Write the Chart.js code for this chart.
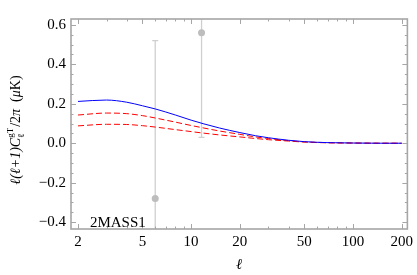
<!DOCTYPE html>
<html lang="en">
<head>
  <meta charset="UTF-8" />
  <title>2MASS1 cross-correlation</title>
  <script src="https://cdn.jsdelivr.net/npm/chart.js"></script>
  <style>
    html, body { margin: 0; padding: 0; background: #fff; }
    #wrap { width: 417px; height: 275px; }
  </style>
</head>
<body>
  <div id="wrap"><canvas id="chart" width="417" height="275"></canvas></div>

  <script>
    // multipoles where the curves are sampled
    const ell = [2, 3, 4, 5, 6, 8, 10, 12, 15, 20, 25, 30, 40, 50, 70, 100, 150, 200];
    // theory curve (blue, solid)
    const theory = [0.212, 0.219, 0.208, 0.190, 0.174, 0.143, 0.117, 0.098, 0.077, 0.054, 0.038, 0.028, 0.015, 0.008, 0.003, 0.001, 0.0, 0.0];
    // two red dashed curves
    const redHigh = [0.143, 0.153, 0.150, 0.140, 0.128, 0.107, 0.090, 0.077, 0.062, 0.045, 0.032, 0.024, 0.013, 0.007, 0.003, 0.001, 0.0, 0.0];
    const redLow = [0.088, 0.096, 0.095, 0.089, 0.082, 0.069, 0.059, 0.051, 0.042, 0.032, 0.024, 0.018, 0.011, 0.006, 0.002, 0.001, 0.0, 0.0];

    // measured points with error bars
    const dataEll = [6, 11.6];
    const dataVal = [-0.28, 0.56];
    const dataErr = [0.80, 0.53];

    // axis ticks
    const xTicks = [2, 5, 10, 20, 50, 100, 200];
    const xMinor = [3, 4, 6, 7, 8, 9, 30, 40, 60, 70, 80, 90];
    const yTicks = [-0.4, -0.2, 0.0, 0.2, 0.4, 0.6];

    const toPts = ys => ell.map((x, i) => ({ x: x, y: ys[i] }));
    const serif = '"Liberation Serif", "DejaVu Serif", serif';

    // error bars with small caps
    const errorBars = {
      id: 'errorBars',
      beforeDatasetsDraw(chart) {
        const { ctx, chartArea, scales } = chart;
        ctx.save();
        ctx.beginPath();
        ctx.rect(chartArea.left, chartArea.top, chartArea.right - chartArea.left, chartArea.bottom - chartArea.top);
        ctx.clip();
        ctx.strokeStyle = '#cfcfcf';
        ctx.lineWidth = 1.3;
        dataEll.forEach((l, i) => {
          const x = scales.x.getPixelForValue(l);
          const y1 = scales.y.getPixelForValue(dataVal[i] - dataErr[i]);
          const y2 = scales.y.getPixelForValue(dataVal[i] + dataErr[i]);
          ctx.beginPath();
          ctx.moveTo(x, y1); ctx.lineTo(x, y2);
          ctx.moveTo(x - 3, y1); ctx.lineTo(x + 3, y1);
          ctx.moveTo(x - 3, y2); ctx.lineTo(x + 3, y2);
          ctx.stroke();
        });
        ctx.restore();
      }
    };

    // Mathematica-like frame with inward ticks, label and y title
    const frame = {
      id: 'frame',
      afterDraw(chart) {
        const { ctx, chartArea: a, scales } = chart;
        ctx.save();
        ctx.strokeStyle = '#a6a6a6';
        ctx.lineWidth = 1;
        ctx.beginPath();
        const tick = (vals, len) => {
          vals.forEach(v => {
            const x = Math.round(scales.x.getPixelForValue(v)) + 0.5;
            ctx.moveTo(x, a.bottom); ctx.lineTo(x, a.bottom - len);
            ctx.moveTo(x, a.top); ctx.lineTo(x, a.top + len);
          });
        };
        tick(xTicks, 5);
        tick(xMinor, 2.5);
        for (let k = -8; k <= 12; k++) {
          const v = k * 0.05;
          const len = (k % 4 === 0) ? 5 : 2.5;
          const y = Math.round(scales.y.getPixelForValue(v)) + 0.5;
          if (y < a.top || y > a.bottom) continue;
          ctx.moveTo(a.left, y); ctx.lineTo(a.left + len, y);
          ctx.moveTo(a.right, y); ctx.lineTo(a.right - len, y);
        }
        ctx.stroke();
        ctx.lineWidth = 1.6;
        ctx.strokeRect(a.left, a.top, a.right - a.left, a.bottom - a.top);

        // panel label
        ctx.fillStyle = '#000';
        ctx.font = '15px ' + serif;
        ctx.textBaseline = 'alphabetic';
        ctx.textAlign = 'left';
        ctx.fillText('2MASS1', scales.x.getPixelForValue(2.37), scales.y.getPixelForValue(-0.4) + 5);

        // x title
        ctx.font = 'italic 15px ' + serif;
        ctx.textAlign = 'center';
        ctx.fillText('ℓ', (a.left + a.right) / 2, 269);

        // y title with super/subscripts
        const parts = [
          { t: 'ℓ(ℓ+1)', f: 'italic 14px ' },
          { t: 'C', f: 'italic 14px ' },
          { sup: 'gT', sub: 'ℓ', f: '9px ' },
          { t: '/2', f: '14px ' },
          { t: 'π', f: 'italic 14px ' },
          { t: '  (', f: '14px ' },
          { t: 'μ', f: 'italic 14px ' },
          { t: 'K)', f: '14px ' }
        ];
        let total = 0;
        parts.forEach(p => {
          ctx.font = p.f + serif;
          p.w = p.t ? ctx.measureText(p.t).width : Math.max(ctx.measureText(p.sup).width, ctx.measureText(p.sub).width) + 1;
          total += p.w;
        });
        ctx.translate(20, (a.top + a.bottom) / 2 + 6);
        ctx.rotate(-Math.PI / 2);
        ctx.textAlign = 'left';
        let x = -total / 2;
        parts.forEach(p => {
          ctx.font = p.f + serif;
          if (p.t) {
            ctx.fillText(p.t, x, 0);
          } else {
            ctx.fillText(p.sup, x, -7);
            ctx.fillText(p.sub, x, 4);
          }
          x += p.w;
        });
        ctx.restore();
      }
    };

    new Chart(document.getElementById('chart'), {
      type: 'scatter',
      data: {
        datasets: [
          {
            label: 'theory',
            data: toPts(theory),
            showLine: true,
            borderColor: '#0000ff',
            borderWidth: 1,
            pointRadius: 0,
            cubicInterpolationMode: 'monotone'
          },
          {
            label: 'red high',
            data: toPts(redHigh),
            showLine: true,
            borderColor: '#ff0000',
            borderWidth: 1,
            borderDash: [6, 3],
            pointRadius: 0,
            cubicInterpolationMode: 'monotone'
          },
          {
            label: 'red low',
            data: toPts(redLow),
            showLine: true,
            borderColor: '#ff0000',
            borderWidth: 1,
            borderDash: [6, 3],
            pointRadius: 0,
            cubicInterpolationMode: 'monotone'
          },
          {
            label: '2MASS1',
            data: dataEll.map((x, i) => ({ x: x, y: dataVal[i] })),
            showLine: false,
            pointRadius: 3.5,
            backgroundColor: '#bdbdbd',
            borderWidth: 0
          }
        ]
      },
      options: {
        responsive: false,
        animation: false,
        layout: { padding: { left: 0, top: 19, right: 6, bottom: 0 } },
        plugins: {
          legend: { display: false },
          tooltip: { enabled: false }
        },
        scales: {
          x: {
            type: 'logarithmic',
            min: 1.81,
            max: 217,
            grid: { display: false, drawTicks: false },
            border: { display: false },
            afterBuildTicks: s => { s.ticks = xTicks.map(v => ({ value: v })); },
            afterFit: s => { s.height = 46; },
            ticks: {
              autoSkip: false,
              maxRotation: 0,
              padding: 4,
              color: '#000',
              font: { family: serif, size: 15 },
              callback: v => String(v)
            }
          },
          y: {
            min: -0.435,
            max: 0.63,
            grid: { display: false, drawTicks: false },
            border: { display: false },
            afterBuildTicks: s => { s.ticks = yTicks.map(v => ({ value: v })); },
            afterFit: s => { s.width = 71; },
            ticks: {
              padding: 5,
              color: '#000',
              font: { family: serif, size: 15 },
              callback: v => (Math.abs(v) < 1e-9 ? '0.0' : v.toFixed(1).replace('-', '\u2212'))
            }
          }
        }
      },
      plugins: [errorBars, frame]
    });
  </script>
</body>
</html>
